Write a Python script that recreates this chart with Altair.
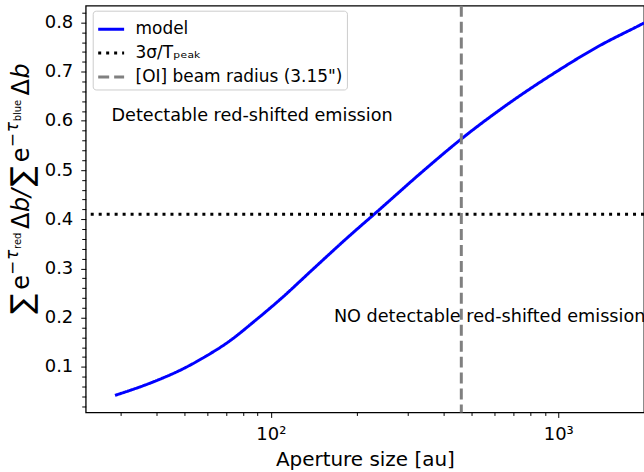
import altair as alt
import pandas as pd

# Model curve: flux ratio vs. aperture size
aperture_au = [28.7, 39.2, 49.1, 59.2, 71.3, 88.2, 109.2, 138.7, 185.9, 236.0,
               335.7, 461.9, 653.0, 974.0, 1376.0, 1945.0, 1990.0]
ratio = [0.042, 0.070, 0.095, 0.121, 0.151, 0.194, 0.240, 0.296, 0.364, 0.417,
         0.496, 0.564, 0.630, 0.698, 0.751, 0.796, 0.799]

threshold = [0.41]          # 3 sigma / T_peak
beam_radius_au = [460.0]    # [OI] beam radius (3.15")

series_names = ["model", "3σ/Tₚₑₐₖ", '[OI] beam radius (3.15")']
series_colors = ["#0000ff", "#000000", "#808080"]
series_dash = [[1, 0], [3, 5], [11, 5]]

x_major = [100, 1000]
x_minor = [30, 40, 50, 60, 70, 80, 90, 200, 300, 400, 500, 600, 700, 800, 900]
y_major = [0.1, 0.2, 0.3, 0.4, 0.5, 0.6, 0.7, 0.8]
y_minor = [0.02, 0.04, 0.06, 0.08, 0.12, 0.14, 0.16, 0.18, 0.22, 0.24, 0.26, 0.28,
           0.32, 0.34, 0.36, 0.38, 0.42, 0.44, 0.46, 0.48, 0.52, 0.54, 0.56, 0.58,
           0.62, 0.64, 0.66, 0.68, 0.72, 0.74, 0.76, 0.78, 0.82]

FONT = "DejaVu Sans"
W, H = 560, 408
LEFT, TOP = 86, 5

model_df = pd.DataFrame({"x": aperture_au, "y": ratio, "series": series_names[0]})
thr_df = pd.DataFrame({"y": threshold, "series": series_names[1]})
beam_df = pd.DataFrame({"x": beam_radius_au, "series": series_names[2]})

x_scale = alt.Scale(type="log", domain=[22.7, 1988], nice=False)
y_scale = alt.Scale(domain=[0.0073, 0.834], nice=False, zero=False)

legend = alt.Legend(
    title=None, orient="none", legendX=7, legendY=5,
    symbolType="stroke", symbolSize=676, symbolStrokeWidth=3,
    labelFont=FONT, labelFontSize=17, labelColor="black", labelOffset=10,
    labelLimit=0, rowPadding=1, padding=4, strokeColor="#cccccc",
    fillColor="white", cornerRadius=3,
)
color = alt.Color("series:N", scale=alt.Scale(domain=series_names, range=series_colors),
                  legend=legend)
dash = alt.StrokeDash("series:N", scale=alt.Scale(domain=series_names, range=series_dash),
                      legend=legend)

x_axis = alt.Axis(
    values=sorted(x_minor + x_major), tickCount=500,
    labelExpr="datum.value == 100 ? '10²' : (datum.value == 1000 ? '10³' : '')",
    tickSize={"condition": {"test": "datum.value == 100 || datum.value == 1000", "value": 5}, "value": 3},
    title="Aperture size [au]", titleFont=FONT, titleFontSize=20, titleFontWeight="normal",
    titleColor="black", titlePadding=6,
    labelFont=FONT, labelFontSize=18, labelColor="black", labelPadding=8,
    labelOverlap=False, labelFlush=False, grid=False, domain=False,
    tickColor="black", tickWidth=1,
)
y_axis = alt.Axis(
    values=sorted(y_minor + y_major), tickCount=500,
    labelExpr="abs(datum.value * 10 - round(datum.value * 10)) < 0.001 ? format(datum.value, '.1f') : ''",
    tickSize={"condition": {"test": "abs(datum.value * 10 - round(datum.value * 10)) < 0.001", "value": 5}, "value": 4},
    title=None, labelFont=FONT, labelFontSize=18, labelColor="black", labelPadding=8,
    labelOverlap=False, labelFlush=False, grid=False, domain=False,
    tickColor="black", tickWidth=1,
)

line = alt.Chart(model_df).mark_line(strokeWidth=3, clip=True, interpolate="monotone").encode(
    x=alt.X("x:Q", scale=x_scale, axis=x_axis),
    y=alt.Y("y:Q", scale=y_scale, axis=y_axis),
    color=color, strokeDash=dash,
)
hline = alt.Chart(thr_df).mark_rule(strokeWidth=3).encode(
    y=alt.Y("y:Q", scale=y_scale), color=color, strokeDash=dash,
)
vline = alt.Chart(beam_df).mark_rule(strokeWidth=3).encode(
    x=alt.X("x:Q", scale=x_scale), color=color, strokeDash=dash,
)

notes_df = pd.DataFrame({
    "x": [27.9, 165.8],
    "y": [0.609, 0.201],
    "label": ["Detectable red-shifted emission", "NO detectable red-shifted emission"],
})
notes = alt.Chart(notes_df).mark_text(
    align="left", baseline="middle", font=FONT, fontSize=17.7, color="black"
).encode(
    x=alt.X("x:Q", scale=x_scale),
    y=alt.Y("y:Q", scale=y_scale),
    text="label:N",
)

# Y-axis label built from pieces so the exponents and subscripts sit like math text
one = pd.DataFrame({"k": [0]})


def piece(txt, y_abs, x_abs, size, style="normal"):
    return alt.Chart(one).mark_text(
        text=txt, angle=270, align="left", baseline="alphabetic",
        font=FONT, fontSize=size, fontStyle=style, color="black",
    ).encode(x=alt.value(x_abs - LEFT), y=alt.value(y_abs - TOP))


base_x, sup_x, subsub_x = 29, 18, 21
ylabel = [
    piece("∑", 314, base_x + 3, 30),
    piece("e", 290, base_x, 24),
    piece("−", 275, sup_x, 17),
    piece("τ", 260, sup_x, 17, "italic"),
    piece("red", 249, subsub_x, 10),
    piece("Δ", 229, base_x, 24),
    piece("b/", 212, base_x, 24, "italic"),
    piece("∑", 186, base_x + 3, 30),
    piece("e", 162, base_x, 24),
    piece("−", 147, sup_x, 17),
    piece("τ", 132, sup_x, 17, "italic"),
    piece("blue", 121, subsub_x, 10),
    piece("Δ", 95, base_x, 24),
    piece("b", 78, base_x, 24, "italic"),
]

chart = alt.layer(line, hline, vline, notes, *ylabel).properties(
    width=W, height=H,
    autosize=alt.AutoSizeParams(type="none"),
    padding={"left": LEFT, "top": TOP, "right": 0, "bottom": 472 - TOP - H},
).configure(background="white").configure_view(stroke="black", strokeWidth=1.3)

chart.save("out.html", embed_options={"renderer": "svg", "actions": False})
